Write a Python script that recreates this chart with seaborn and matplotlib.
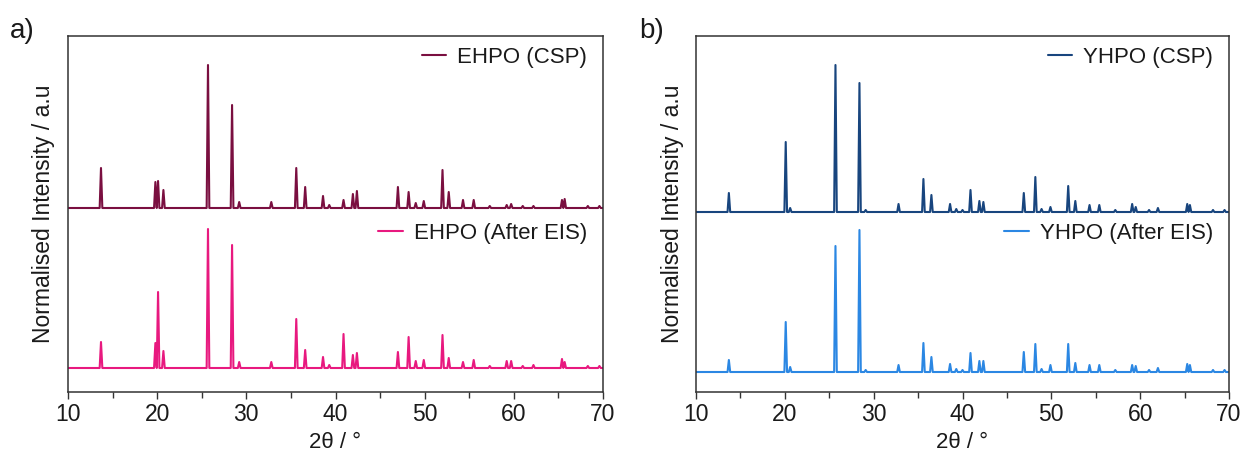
import numpy as np
import pandas as pd
import matplotlib
matplotlib.use("Agg")
import matplotlib.pyplot as plt
import seaborn as sns
from matplotlib.ticker import MultipleLocator

# ---------------- data ----------------
# 2-theta peak positions (degrees)
ehpo_peaks = [13.7, 19.8, 20.1, 20.7, 25.7, 28.4, 29.2, 32.8, 35.6, 36.6, 38.6, 39.3,
              40.9, 41.95, 42.4, 47.0, 48.2, 49.0, 49.9, 52.0, 52.7, 54.3, 55.5, 57.3,
              59.2, 59.7, 61.0, 62.2, 65.4, 65.7, 68.3, 69.6]
ehpo_csp = [40, 26, 27, 18, 143, 103, 6, 6, 40, 21, 12, 3,
            8, 14, 17, 21, 16, 5, 7, 38, 16, 8, 8, 2,
            3, 4, 2, 2, 8, 9, 2, 2]
ehpo_eis = [26, 25, 76, 17, 139, 123, 6, 6, 49, 18, 11, 3,
            34, 13, 15, 16, 31, 7, 8, 33, 10, 6, 8, 2,
            7, 7, 2, 3, 9, 6, 2, 2]

yhpo_peaks = [13.7, 20.1, 20.6, 25.7, 28.4, 29.1, 32.8, 35.6, 36.5, 38.6, 39.3, 40.0,
              40.9, 41.9, 42.35, 46.9, 48.2, 48.9, 49.9, 51.9, 52.7, 54.3, 55.4, 57.2,
              59.1, 59.5, 61.0, 62.0, 65.3, 65.6, 68.2, 69.5]
yhpo_csp = [19, 70, 4, 147, 129, 2, 8, 33, 17, 8, 3, 2,
            22, 11, 10, 19, 35, 3, 5, 26, 11, 7, 7, 2,
            8, 5, 2, 4, 8, 7, 2, 2]
yhpo_eis = [12, 50, 5, 126, 142, 2, 7, 29, 15, 8, 3, 2,
            19, 11, 11, 20, 28, 3, 7, 28, 9, 7, 7, 2,
            7, 6, 2, 4, 8, 7, 2, 2]

# vertical stacking offsets of the patterns (a.u.)
ehpo_offsets = [184, 24]
yhpo_offsets = [180, 20]

labels_a = ["EHPO (CSP)", "EHPO (After EIS)"]
labels_b = ["YHPO (CSP)", "YHPO (After EIS)"]
x_ticks = [10, 20, 30, 40, 50, 60, 70]

colors_a = ["#7a0f40", "#e8197f"]
colors_b = ["#18457e", "#2b87e3"]

# ---------------- style ----------------
sns.set_style("ticks")
plt.rcParams["font.family"] = ["Liberation Sans", "DejaVu Sans"]
plt.rcParams["font.size"] = 16
plt.rcParams["text.color"] = "#1a1a1a"
plt.rcParams["axes.labelcolor"] = "#1a1a1a"
plt.rcParams["xtick.labelcolor"] = "#1a1a1a"


def trace(peaks, heights, base, hw=0.15):
    xs, ys = [10.0], [base]
    for p, h in zip(peaks, heights):
        xs += [p - hw, p, p + hw]
        ys += [base, base + h, base]
    xs.append(70.0)
    ys.append(base)
    return pd.DataFrame({"x": xs, "y": ys})


fig = plt.figure(figsize=(12.45, 4.57), dpi=100)
ax_a = fig.add_axes([68 / 1245, 1 - 392 / 457, 535 / 1245, 356 / 457])
ax_b = fig.add_axes([696 / 1245, 1 - 392 / 457, 533 / 1245, 356 / 457])


def draw(ax, peaks, series, offsets, labels, colors):
    handles = []
    for h, off, lab, col in zip(series, offsets, labels, colors):
        df = trace(peaks, h, off)
        sns.lineplot(data=df, x="x", y="y", ax=ax, color=col, lw=1.5,
                     estimator=None, sort=False, label=lab, legend=False)
        handles.append(ax.get_lines()[-1])
    ax.set_xlim(10, 70)
    ax.set_ylim(0, 356)
    ax.set_xticks(x_ticks)
    ax.xaxis.set_minor_locator(MultipleLocator(5))
    ax.set_yticks([])
    ax.tick_params(axis="x", which="major", length=5, width=1.0, labelsize=16.5,
                   direction="out", color="#333333", pad=3)
    ax.tick_params(axis="x", which="minor", length=4, width=1.0,
                   direction="out", color="#333333")
    for s in ax.spines.values():
        s.set_visible(True)
        s.set_linewidth(1.1)
        s.set_color("#333333")
    ax.set_xlabel("2θ / °", fontsize=16, labelpad=4)
    ax.set_ylabel("Normalised Intensity / a.u", fontsize=16.5, labelpad=9)
    l1 = ax.legend(handles=[handles[0]], labels=[labels[0]], loc="center right",
                   bbox_to_anchor=(0.97, 0.94), frameon=False, fontsize=16,
                   handlelength=1.1, handletextpad=0.5, borderpad=0,
                   borderaxespad=0)
    ax.add_artist(l1)
    ax.legend(handles=[handles[1]], labels=[labels[1]], loc="center right",
              bbox_to_anchor=(0.97, 0.445), frameon=False, fontsize=16,
              handlelength=1.1, handletextpad=0.5, borderpad=0,
              borderaxespad=0)


draw(ax_a, ehpo_peaks, [ehpo_csp, ehpo_eis], ehpo_offsets, labels_a, colors_a)
draw(ax_b, yhpo_peaks, [yhpo_csp, yhpo_eis], yhpo_offsets, labels_b, colors_b)

fig.text(10 / 1245, 1 - 31 / 457, "a)", fontsize=20, ha="left", va="center")
fig.text(639 / 1245, 1 - 31 / 457, "b)", fontsize=20, ha="left", va="center")

fig.savefig("out.png", dpi=100)
